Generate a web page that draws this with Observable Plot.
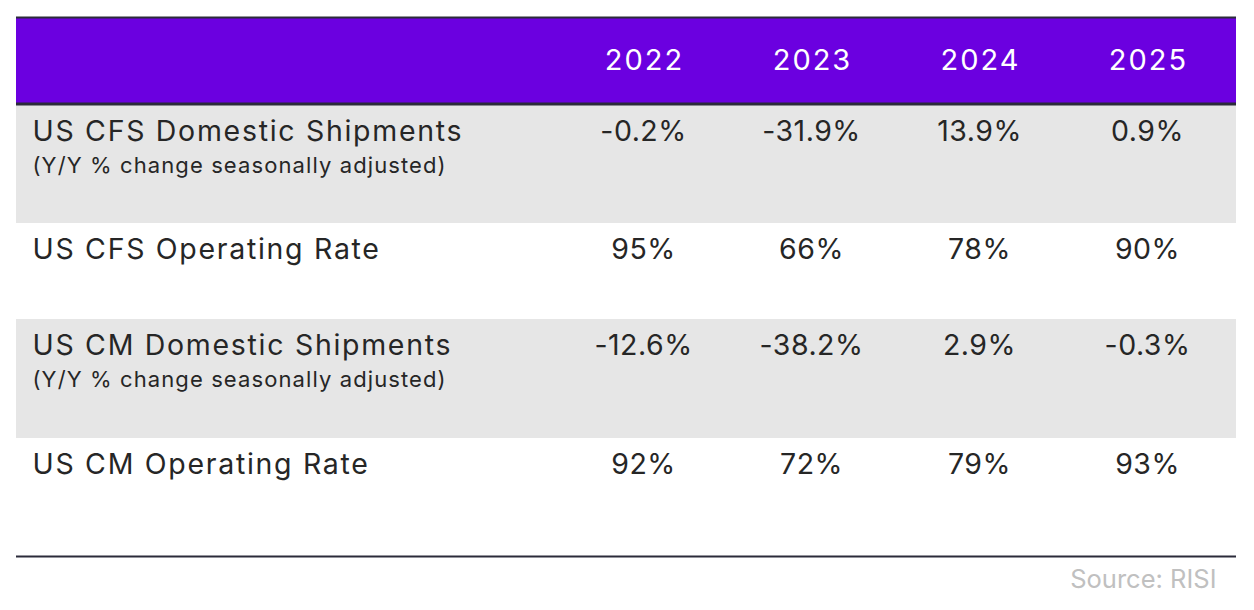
<!DOCTYPE html>
<html>
<head>
<meta charset="utf-8">
<script src="https://cdn.jsdelivr.net/npm/d3@7"></script>
<script src="https://cdn.jsdelivr.net/npm/@observablehq/plot@0.6"></script>
<style>
  html, body { margin: 0; padding: 0; background: #ffffff; }
  #chart svg { display: block; }
</style>
</head>
<body>
<div id="chart"></div>
<script>
// ---- data ----
const years = ["2022", "2023", "2024", "2025"];
const metrics = ["US CFS Domestic Shipments", "US CFS Operating Rate", "US CM Domestic Shipments", "US CM Operating Rate"];
const notes = ["(Y/Y % change seasonally adjusted)", "", "(Y/Y % change seasonally adjusted)", ""];
const cfsShipments = [-0.2, -31.9, 13.9, 0.9];
const cfsOperatingRate = [95, 66, 78, 90];
const cmShipments = [-12.6, -38.2, 2.9, -0.3];
const cmOperatingRate = [92, 72, 79, 93];
const sourceText = "Source: RISI";

// ---- layout ----
const W = 1254, H = 610;
const left = 16, right = 1236;
const tableTop = 18, headerH = 85;
const rowHeights = [118, 96, 119, 118];
const font = "Inter, 'DejaVu Sans', sans-serif";
const fsLabel = 28.5, fsVal = 28.5, fsNote = 22, fsHead = 29, fsSrc = 25.5;
// letter spacing per text group: header, labels, notes, values, source
const spacing = ["2px", "1.7px", "1.1px", "0.5px", "0px"];

const pct1 = v => (v < 0 ? "-" : "") + Math.abs(v).toFixed(1) + "%";
const pct0 = v => v + "%";
const series = [
  {vals: cfsShipments, fmt: pct1},
  {vals: cfsOperatingRate, fmt: pct0},
  {vals: cmShipments, fmt: pct1},
  {vals: cmOperatingRate, fmt: pct0}
];

let rowTop = tableTop + headerH + 2;
const rows = metrics.map((m, i) => {
  const r = {label: m, note: notes[i], y1: rowTop, y2: rowTop + rowHeights[i], shade: i % 2 === 0};
  rowTop += rowHeights[i];
  return r;
});
const tableBottom = rowTop;

const colX = d3.scalePoint().domain(years).range([643, 1147]);

const cells = rows.flatMap((r, i) => years.map((yr, j) => ({
  x: colX(yr),
  y: r.y1 + 35 - 0.32 * fsVal,
  text: series[i].fmt(series[i].vals[j])
})));

const plot = Plot.plot({
  width: W, height: H, margin: 0,
  x: {type: "linear", domain: [0, W], range: [0, W], axis: null},
  y: {type: "linear", domain: [0, H], range: [0, H], axis: null},
  style: {fontFamily: font, background: "#ffffff"},
  marks: [
    Plot.rect([{y1: tableTop, y2: tableTop + headerH}], {x1: left, x2: right, y1: "y1", y2: "y2", fill: "#6b00e0"}),
    Plot.rect(rows.filter(r => r.shade), {x1: left, x2: right, y1: "y1", y2: "y2", fill: "#e6e6e6"}),
    Plot.ruleY([tableTop - 1], {x1: left, x2: right, stroke: "#2b2b3a", strokeWidth: 2}),
    Plot.ruleY([tableTop + headerH + 0.5], {x1: left, x2: right, stroke: "#2b2b3a", strokeWidth: 3}),
    Plot.ruleY([tableBottom], {x1: left, x2: right, stroke: "#2b2b3a", strokeWidth: 2}),
    Plot.text(years, {x: d => colX(d) + 1, y: tableTop + 51 - 0.32 * fsHead, text: d => d, fill: "#ffffff", fontSize: fsHead, textAnchor: "middle", lineAnchor: "middle"}),
    Plot.text(rows, {x: left + 16, y: r => r.y1 + 35 - 0.32 * fsLabel, text: "label", fill: "#262626", fontSize: fsLabel, textAnchor: "start", lineAnchor: "middle"}),
    Plot.text(rows.filter(r => r.note), {x: left + 16, y: r => r.y1 + 67 - 0.32 * fsNote, text: "note", fill: "#262626", fontSize: fsNote, textAnchor: "start", lineAnchor: "middle"}),
    Plot.text(cells, {x: "x", y: "y", text: "text", fill: "#262626", fontSize: fsVal, textAnchor: "middle", lineAnchor: "middle"}),
    Plot.text([sourceText], {x: 1216, y: 587 - 0.32 * fsSrc, text: d => d, fill: "#c0c0c0", fontSize: fsSrc, textAnchor: "end", lineAnchor: "middle"})
  ]
});
d3.select(plot).selectAll('g[aria-label="text"]').each(function(_, i) {
  if (spacing[i]) this.setAttribute("letter-spacing", spacing[i]);
});
document.getElementById("chart").appendChild(plot);
</script>
</body>
</html>
